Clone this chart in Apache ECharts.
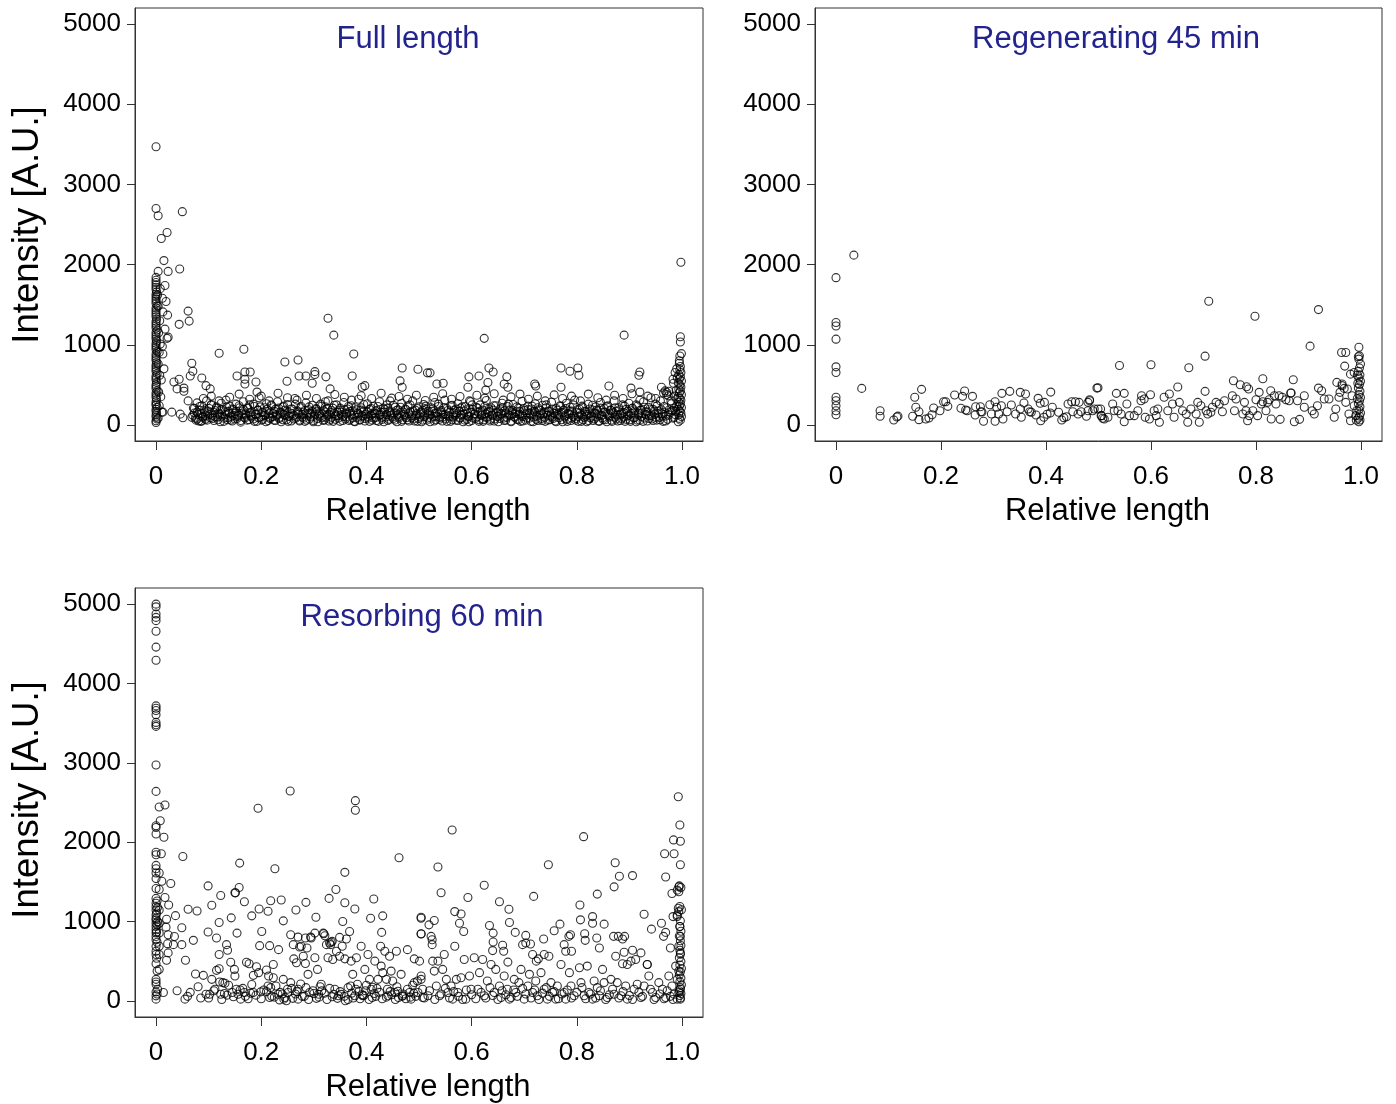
<!DOCTYPE html>
<html><head><meta charset="utf-8">
<script src="https://cdn.jsdelivr.net/npm/echarts@6/dist/echarts.min.js"></script>
<style>html,body{margin:0;padding:0;background:#fff}#c{width:1396px;height:1104px}</style>
</head><body><div id="c"></div>
<script>
const xTicks=[0,0.2,0.4,0.6,0.8,1.0];
const xTickLabels=['0','0.2','0.4','0.6','0.8','1.0'];
const yTicks=[0,1000,2000,3000,4000,5000];
const panelTitles=['Full length','Regenerating 45 min','Resorbing 60 min'];
const xName='Relative length';
const yName='Intensity [A.U.]';

const fullLength=[
[0,30],[0,52],[0.002,75],[0,98],[0,125],[0.001,148],[0,170],[0,196],[0.002,218],[0,245],[0,262],[0,290],[0.001,318],[0,342],[0,371],[0,398],[0.002,425],[0,452],[0,478],[0,503],[0.001,531],[0,560],[0,586],[0,612],[0.002,640],[0,668],[0,692],[0,720],[0,748],[0.001,776],[0,803],[0,830],[0,858],[0,884],[0.002,912],[0,938],[0,965],[0,992],[0,1018],[0.001,1046],[0,1072],[0,1101],[0,1128],[0,1156],[0.002,1183],[0,1210],[0,1238],[0,1266],[0,1292],[0.001,1320],[0,1348],[0,1376],[0,1404],[0,1432],[0,1460],[0.002,1488],[0,1515],[0,1544],[0,1572],[0,1601],[0,1630],[0.001,1660],[0,1690],[0,1718],[0,1747],[0,1776],[0,1805],[0,1840],
[0.004,85],[0.006,240],[0.005,410],[0.007,620],[0.004,760],[0.006,905],[0.008,1010],[0.005,1150],[0.007,1300],[0.004,1480],[0.009,350],[0.011,160],[0.013,160],[0.01,560],[0.012,980],[0.015,700],[0.008,1700],[0.003,1620],
[0,3470],[0,2700],[0.004,2610],[0.05,2660],[0.01,2325],[0.021,2400],[0.015,2050],[0.045,1945],[0.004,1915],[0.023,1915],[0.017,1740],[0.012,1580],[0.019,1540],[0.013,1410],[0.022,1370],[0.061,1420],[0.063,1295],[0.044,1255],[0.017,1195],[0.021,1080],[0.023,1095],[0.013,885],[0.12,895],[0.167,945],[0.327,1330],[0.338,1120],[0.376,885],[0.624,1080],[0.89,1120],[0.998,2030],[0.997,1100],[0.997,1035],[0.27,810],
[.468,710],[.498,695],[.516,650],[.521,650],[.302,665],[.302,630],[.323,600],[.373,610],[.285,610],[.633,710],[.641,660],[.614,610],[.595,600],[.667,600],[.77,710],[.802,710],[.787,670],[.804,620],[.918,620],[.464,550],[.468,470],[.546,520],[.534,510],[.397,490],[.392,470],[.331,450],[.297,520],[.593,470],[.627,435],[.631,530],[.662,510],[.669,470],[.72,510],[.722,485],[.77,470],[.861,485],[.903,460],[.92,410],
[.068,770],[.07,670],[.065,610],[.087,585],[.034,535],[.04,450],[.044,570],[.053,460],[.053,420],[.095,490],[.103,450],[.061,300],[.03,160],[.046,135],[.051,90],[.154,610],[.169,660],[.169,570],[.169,510],[.179,660],[.19,535],[.192,410],[.245,785],[.249,545],[.272,610],[.078,75],[.087,50],
[.961,470],[.968,425],[.971,405],[.974,365],[.983,570],[.987,655],[.99,700],[.995,800],[.996,860],[.999,890],[.92,660],
[.09,330],[.105,360],[.12,300],[.14,345],[.158,385],[.178,320],[.2,360],[.215,300],[.232,395],[.25,340],[.268,310],[.286,370],[.305,330],[.322,290],[.34,380],[.358,345],[.372,310],[.39,365],[.41,330],[.428,395],[.445,300],[.462,355],[.478,320],[.495,370],[.512,305],[.528,345],[.545,390],[.562,320],[.578,355],[.596,300],[.61,370],[.625,335],[.643,390],[.66,310],[.675,350],[.692,385],[.708,320],[.725,360],[.74,300],[.757,375],[.773,330],[.79,360],[.807,300],[.822,385],[.84,340],[.856,310],[.872,370],[.888,330],[.905,390],[.92,310],[.935,360],[.95,330],[.965,400],
[.068,95],[.071,210],[.073,150],[.076,60],[.078,275],[.08,130],[.082,185],[.085,45],[.087,240],[.089,110],
[.092,165],[.094,70],[.096,300],[.098,140],[.101,205],[.103,90],[.105,255],[.108,120],[.11,55],[.112,180],
[.115,225],[.117,100],[.119,150],[.122,40],[.124,270],[.126,195],[.129,85],[.131,130],[.133,310],[.136,65],
[.138,170],[.14,235],[.143,105],[.145,50],[.147,190],[.15,145],[.152,260],[.154,80],[.157,120],[.159,215],
[.161,35],[.164,175],[.166,290],[.168,95],[.171,140],[.173,60],[.175,205],[.178,250],[.18,115],[.182,165],
[.185,75],[.187,230],[.189,130],[.192,45],[.194,185],[.196,340],[.199,100],[.201,155],[.203,70],[.206,215],
[.208,125],[.21,265],[.213,55],[.215,175],[.217,95],[.22,240],[.222,140],[.224,60],[.227,195],[.229,110],
[.231,290],[.234,80],[.236,160],[.238,40],[.241,225],[.243,130],[.245,185],[.248,65],[.25,255],[.252,105],
[.255,150],[.257,50],[.259,200],[.262,120],[.264,330],[.266,85],[.269,175],[.271,135],[.273,60],[.276,230],
[.278,100],[.28,160],[.283,45],[.285,275],[.287,125],[.29,190],[.292,75],[.294,145],[.297,245],[.299,55],
[.301,110],[.304,205],[.306,165],[.308,40],[.311,135],[.313,260],[.315,90],[.318,180],[.32,65],[.322,225],
[.325,120],[.327,300],[.329,50],[.332,155],[.334,95],[.336,210],[.339,140],[.341,70],[.343,250],[.346,115],
[.348,185],[.35,45],[.353,160],[.355,105],[.357,280],[.36,75],[.362,135],[.364,200],[.367,55],[.369,170],
[.371,240],[.374,90],[.376,125],[.378,40],[.381,190],[.383,150],[.385,320],[.388,65],[.39,215],[.392,110],
[.395,170],[.397,50],[.399,135],[.402,265],[.404,85],[.406,195],[.409,120],[.411,60],[.413,230],[.416,145],
[.418,95],[.42,180],[.423,45],[.425,290],[.427,130],[.43,70],[.432,210],[.434,160],[.437,100],[.439,250],
[.441,55],[.444,175],[.446,120],[.448,335],[.451,80],[.453,145],[.455,220],[.458,40],[.46,190],[.462,105],
[.465,155],[.467,270],[.469,65],[.472,130],[.474,200],[.476,90],[.479,240],[.481,50],[.483,165],[.486,115],
[.488,300],[.49,75],[.493,185],[.495,140],[.497,45],[.5,225],[.502,100],[.504,160],[.507,60],[.509,255],
[.511,125],[.514,195],[.516,85],[.518,140],[.521,40],[.523,215],[.525,170],[.528,105],[.53,280],[.532,65],
[.535,150],[.537,230],[.539,95],[.542,180],[.544,50],[.546,130],[.549,310],[.551,75],[.553,205],[.556,115],
[.558,160],[.56,45],[.563,245],[.565,100],[.567,185],[.57,60],[.572,140],[.574,265],[.577,85],[.579,210],
[.581,125],[.584,40],[.586,175],[.588,230],[.591,70],[.593,150],[.595,105],[.598,290],[.6,55],[.602,195],
[.605,135],[.607,80],[.609,220],[.612,160],[.614,45],[.616,250],[.619,115],[.621,185],[.623,65],[.626,140],
[.628,305],[.63,95],[.633,170],[.635,50],[.637,215],[.64,125],[.642,240],[.644,75],[.647,155],[.649,110],
[.651,40],[.654,200],[.656,145],[.658,270],[.661,85],[.663,175],[.665,60],[.668,230],[.67,120],[.672,185],
[.675,50],[.677,140],[.679,255],[.682,95],[.684,165],[.686,70],[.689,210],[.691,130],[.693,45],[.696,295],
[.698,105],[.7,180],[.703,60],[.705,150],[.707,235],[.71,85],[.712,125],[.714,200],[.717,40],[.719,170],
[.721,265],[.724,110],[.726,55],[.728,190],[.731,140],[.733,80],[.735,245],[.738,160],[.74,45],[.742,215],
[.745,120],[.747,175],[.749,65],[.752,285],[.754,100],[.756,150],[.759,50],[.761,205],[.763,130],[.766,90],
[.768,240],[.77,160],[.773,40],[.775,185],[.777,115],[.78,270],[.782,70],[.784,145],[.787,220],[.789,55],
[.791,175],[.794,105],[.796,310],[.798,80],[.801,155],[.803,45],[.805,200],[.808,125],[.81,235],[.812,65],
[.815,170],[.817,110],[.819,40],[.822,260],[.824,140],[.826,90],[.829,190],[.831,55],[.833,150],[.836,225],
[.838,100],[.84,175],[.843,45],[.845,280],[.847,120],[.85,70],[.852,205],[.854,160],[.857,40],[.859,240],
[.861,115],[.864,185],[.866,60],[.868,140],[.871,300],[.873,95],[.875,170],[.878,50],[.88,215],[.882,130],
[.885,80],[.887,250],[.889,155],[.892,45],[.894,195],[.896,110],[.899,270],[.901,65],[.903,145],[.906,210],
[.908,90],[.91,175],[.913,40],[.915,235],[.917,125],[.92,60],[.922,185],[.924,150],[.927,290],[.929,85],
[.931,165],[.934,50],[.936,220],[.938,115],[.941,340],[.943,75],[.945,195],[.948,135],[.95,260],[.952,60],
[.955,175],[.957,95],[.959,300],[.962,140],[.964,45],[.966,230],[.969,110],[.971,380],[.973,70],[.976,190],
[.978,155],[.98,265],[.983,85],[.985,210],[.987,130],[.99,320],
[.070,120],[.073,205],[.075,85],[.078,160],[.081,50],[.083,230],[.086,140],[.089,95],[.091,185],[.094,115],
[.097,60],[.099,175],[.102,130],[.105,245],[.107,80],[.110,155],[.113,100],[.115,210],[.118,65],[.121,135],
[.123,190],[.126,110],[.129,45],[.131,165],[.134,225],[.137,90],[.139,145],[.142,60],[.145,200],[.147,120],
[.150,75],[.153,170],[.155,105],[.158,240],[.161,55],[.163,140],[.166,195],[.169,85],[.171,125],[.174,215],
[.177,65],[.179,150],[.182,100],[.185,260],[.187,45],[.190,135],[.193,185],[.195,90],[.198,225],[.201,60],
[.203,160],[.206,115],[.209,40],[.211,195],[.214,140],[.217,80],[.219,250],[.222,105],[.225,170],[.227,55],
[.230,130],[.233,210],[.235,95],[.238,150],[.241,65],[.243,235],[.246,120],[.249,175],[.251,45],[.254,110],
[.257,200],[.259,140],[.262,75],[.265,260],[.267,100],[.270,160],[.273,50],[.275,215],[.278,130],[.281,85],
[.283,180],[.286,60],[.289,145],[.291,225],[.294,100],[.297,170],[.299,40],[.302,135],[.305,195],[.307,80],
[.310,150],[.313,110],[.315,235],[.318,55],[.321,165],[.323,95],[.326,205],[.329,135],[.331,70],[.334,180],
[.337,45],[.339,245],[.342,115],[.345,160],[.347,85],[.350,210],[.353,130],[.355,55],[.358,190],[.361,100],
[.363,150],[.366,230],[.369,70],[.371,125],[.374,175],[.377,45],[.379,215],[.382,95],[.385,140],[.387,60],
[.390,185],[.393,115],[.395,255],[.398,80],[.401,160],[.403,105],[.406,45],[.409,205],[.411,140],[.414,85],
[.417,175],[.419,55],[.422,230],[.425,120],[.427,160],[.430,95],[.433,40],[.435,195],[.438,130],[.441,210],
[.443,70],[.446,150],[.449,100],[.451,245],[.454,60],[.457,180],[.459,125],[.462,85],[.465,220],[.467,45],
[.470,160],[.473,110],[.475,190],[.478,65],[.481,140],[.483,250],[.486,90],[.489,175],[.491,50],[.494,120],
[.497,205],[.499,80],[.502,150],[.505,40],[.507,185],[.510,105],[.513,235],[.515,60],[.518,170],[.521,125],
[.523,85],[.526,200],[.529,50],[.531,145],[.534,110],[.537,260],[.539,70],[.542,160],[.545,95],[.547,215],
[.550,130],[.553,45],[.555,180],[.558,100],[.561,240],[.563,65],[.566,150],[.569,120],[.571,200],[.574,55],
[.577,170],[.579,90],[.582,225],[.585,135],[.587,60],[.590,190],[.593,110],[.595,40],[.598,160],[.601,250],
[.603,85],[.606,140],[.609,100],[.611,210],[.614,65],[.617,175],[.619,125],[.622,45],[.625,230],[.627,95],
[.630,155],[.633,200],[.635,70],[.638,120],[.641,185],[.643,50],[.646,240],[.649,105],[.651,165],[.654,80],
[.657,135],[.659,215],[.662,55],[.665,150],[.667,95],[.670,260],[.673,120],[.675,40],[.678,180],[.681,105],
[.683,145],[.686,225],[.689,65],[.691,170],[.694,110],[.697,50],[.699,205],[.702,130],[.705,85],[.707,190],
[.710,150],[.713,45],[.715,235],[.718,100],[.721,160],[.723,70],[.726,215],[.729,125],[.731,180],[.734,55],
[.737,140],[.739,95],[.742,250],[.745,60],[.747,170],[.750,115],[.753,200],[.755,80],[.758,145],[.761,40],
[.763,185],[.766,120],[.769,230],[.771,65],[.774,155],[.777,100],[.779,205],[.782,45],[.785,135],[.787,175],
[.790,85],[.793,250],[.795,125],[.798,60],[.801,190],[.803,105],[.806,150],[.809,45],[.811,220],[.814,95],
[.817,165],[.819,130],[.822,55],[.825,200],[.827,110],[.830,245],[.833,75],[.835,145],[.838,185],[.841,50],
[.843,120],[.846,210],[.849,90],[.851,160],[.854,65],[.857,230],[.859,135],[.862,100],[.865,180],[.867,45],
[.870,155],[.873,215],[.875,75],[.878,125],[.881,190],[.883,55],[.886,140],[.889,100],[.891,235],[.894,70],
[.897,170],[.899,120],[.902,45],[.905,205],[.907,150],[.910,90],[.913,250],[.915,60],[.918,140],[.921,185],
[.923,105],[.926,45],[.929,220],[.931,130],[.934,160],[.937,80],[.939,200],[.942,115],[.945,55],[.947,175],
[.950,95],[.953,240],[.955,140],[.958,65],[.961,190],[.963,110],[.966,160],[.969,50],[.971,215],[.974,125],
[.993,40],[.997,60],[.995,82],[.999,105],[.994,128],[.998,150],[.996,172],[.993,195],[.999,218],[.995,240],[.997,262],[.994,285],[.998,308],[.996,330],[.993,355],[.999,378],[.995,402],[.997,425],[.994,448],[.998,472],[.996,498],[.993,522],[.999,548],[.995,575],[.997,600],[.994,628],[.998,655],[.996,690],[.997,730],[.995,770],[.985,95],[.988,170],[.99,240],[.986,360],[.989,430],[.984,520],[.991,590],[.982,180],[.979,300],[.975,420]
];

const regenerating45=[
[0,1837],[.034,2118],[0,1277],[0,1235],[0,1070],[0,725],[0,655],[0,345],[0,302],[0,240],[0,178],[0,128],[.049,456],[.084,178],[.084,108],[.11,62],[.116,100],[.118,110],[.15,345],[.163,444],[.146,108],[.152,220],[.158,165],[.158,66],[.171,75],[.177,87],[.183,128],[.186,211],[.198,178],[.205,290],[.209,290],[.213,232],[.226,373],[.241,357],[.245,423],[.26,357],[.238,208],[.247,186],[.25,178],[.266,228],[.275,228],[.265,124],[.276,165],[.278,162],[.281,46],[.293,252],[.296,137],[.303,290],[.306,220],[.31,137],[.303,46],[.316,394],[.331,419],[.315,240],[.318,75],[.326,165],[.334,249],[.351,407],[.361,386],[.342,137],[.351,199],[.353,96],[.358,274],[.366,199],[.369,165],[.372,158],[.381,124],[.385,332],[.389,270],[.397,282],[.409,410],[.39,53],[.396,96],[.402,133],[.408,149],[.412,220],[.424,158],[.43,62],[.434,91],[.439,103],[.442,261],[.449,290],[.456,290],[.463,282],[.451,165],[.461,137],[.467,165],[.483,315],[.48,282],[.477,108],[.48,178],[.492,199],[.497,460],[.504,199],[.506,116],[.508,83],
[.483,302],[.489,178],[.499,199],[.505,116],[.511,75],[.518,96],[.527,261],[.530,178],[.537,178],[.543,137],[.549,41],[.554,261],[.559,116],[.568,116],[.575,178],[.581,302],[.587,323],[.589,96],[.597,75],[.606,178],[.610,116],[.613,199],[.616,33],[.625,345],[.632,178],[.635,386],[.641,261],[.644,96],[.654,282],[.660,178],[.667,137],[.670,33],[.676,199],[.686,137],[.689,282],[.692,33],[.695,240],[.705,178],[.708,137],[.714,158],[.717,220],[.724,282],[.730,261],[.736,165],[.740,302],[.755,365],[.759,178],[.762,323],[.775,137],[.778,282],[.781,178],[.784,53],[.787,116],[.794,178],[.800,315],[.803,116],[.806,407],[.810,261],[.813,290],[.819,178],[.822,282],[.825,315],[.829,75],[.835,365],[.838,261],[.844,365],[.846,70],[.850,345],[.857,315],[.863,302],[.866,398],[.873,41],[.879,302],[.883,70],[.892,220],[.907,178],[.911,137],[.917,240],[.930,323],[.939,323],[.949,96],[.952,199],[.958,345],[.960,407],[.964,490],[.971,282],[.974,448],[.977,137],[.980,53],[.983,365],[.987,240],[.990,116],
[.710,1542],[.798,1356],[.919,1439],[.903,983],[.963,904],[.971,904],[.996,970],[.995,850],[.996,821],[.997,862],[.969,734],[.540,742],[.600,750],[.672,713],[.703,858],[.499,464],[.534,394],[.549,394],[.582,365],[.599,377],[.651,473],[.703,419],[.757,551],[.770,501],[.782,476],[.786,448],[.813,576],[.828,427],[.871,563],[.919,460],[.925,427],[.867,398],[.892,365],[.954,531],[.964,510],[.968,456],[.98,634],[.987,655],
[.996,40],[.998,62],[.995,85],[.997,112],[.999,150],[.996,190],[.998,228],[.995,265],[.997,300],[.999,342],[.996,380],[.998,420],[.995,462],[.997,505],[.999,545],[.996,585],[.998,625],[.995,668],[.997,710],[.999,760],[.993,330],[.992,180],[.994,520],[.991,60],[.993,620]
];

const resorbing60=[
[0,4997],[0,4963],[0,4872],[0,4830],[0,4789],[0,4655],[0,4456],[0,4290],[0,3716],[0,3687],[0,3658],[0,3604],[0,3508],[0,3479],[0,3458],[0,2972],[0,2640],[0,2207],[0,2186],[0,2104],[0,1874],[0,1842],[0,1708],[0,1667],[0,1612],[0,1542],[0,1418],[0,1293],[0,1231],[0,1188],[0,1147],[0,1085],[0,1043],[0,1022],[0,981],[0,939],[0,898],[0,857],[0,814],[0,773],[0,690],[0,627],[0,586],[0,470],[0,274],[0,241],[0,212],[0,116],[0,66],[0,25],
[0.002,1260],[0.001,1110],[0.003,1000],[0.002,960],[0.001,870],[0.003,1180],[0.002,740],[0.001,540],[0.002,380],[0.003,150],[0.002,90],
[.006,2444],[.017,2469],[.008,2270],[.015,2062],[.01,1854],[.006,1612],[.011,1509],[.028,1480],[.006,1405],[.017,1305],[.024,1210],[.006,1147],[.006,981],[.006,857],[.006,690],[.006,586],[.006,399],[.014,108],[.023,835],[.022,723],[.023,607],[.02,515],[.035,814],[.033,711],[.049,711],[.056,515],[.071,765],[.061,1156],[.078,1135],[.037,1076],[.02,1031],[.019,931],[.049,923],[.051,1821],[.055,25],
[.255,2644],[.379,2523],[.379,2403],[.194,2428],[.159,1737],[.226,1667],[.462,1804],[.359,1621],[.099,1450],[.123,1330],[.106,1206],[.151,1363],[.158,1430],[.168,1251],
[.075,341],[.090,324],[.106,274],[.115,387],[.120,407],[.121,241],[.127,233],[.131,224],[.095,87],[.102,87],[.123,87],[.142,490],[.149,399],[.150,316],[.145,108],[.153,150],[.156,87],[.161,25],[.168,108],[.172,490],[.177,470],[.185,324],[.185,108],[.191,432],[.195,358],[.199,116],[.210,391],[.214,316],[.216,46],[.213,191],[.223,461],[.223,295],[.232,87],[.242,274],[.243,25],[.248,4],[.251,108],[.256,233],[.261,711],[.262,532],[.267,482],[.270,150],[.270,25],[.273,682],[.280,565],[.284,474],[.289,337],[.292,108],[.295,794],[.302,856],[.302,545],[.307,399],[.309,87],[.314,212],[.318,856],[.321,823],[.324,711],[.327,545],[.330,732],[.333,740],[.336,524],[.343,628],[.347,67],[.349,565],[.354,690],[.359,532],[.360,4],[.365,170],[.368,877],[.371,503],[.374,337],[.378,67],[.381,545],[.383,212],[.390,690],[.393,67],[.397,399],[.403,586],[.406,274],[.409,150],[.411,46],[.416,503],[.422,274],[.427,690],[.428,441],[.431,358],[.435,628],[.438,274],[.441,67],[.444,565],[.447,378],[.450,254],[.454,108],[.457,628],[.461,46],[.466,337],[.469,67],[.478,648],[.482,108],[.485,25],[.491,532],[.497,254],[.501,503],[.504,316],[.507,150],
[.099,869],[.115,794],[.120,586],[.120,989],[.134,711],[.136,640],[.143,1048],[.150,1364],[.154,856],[.182,1073],[.196,1160],[.201,877],[.197,698],[.213,1131],[.216,698],[.218,1264],[.233,648],[.238,1272],[.242,1010],[.256,836],[.266,1147],[.270,806],[.276,690],[.284,794],[.285,1243],[.287,669],[.294,806],[.304,1056],[.319,848],[.329,1293],[.332,711],[.335,752],[.342,1405],[.349,802],[.355,1002],[.359,1239],[.362,782],[.378,1160],[.408,1043],[.414,1285],[.429,865],[.431,1073],[.504,1043],[.504,844],
[.04,130],[.06,60],[.08,180],[.1,40],[.112,150],[.13,95],[.138,200],[.147,55],[.165,160],[.175,30],[.182,210],[.19,75],[.205,140],[.22,60],[.228,190],[.236,110],[.245,45],[.258,160],[.265,90],[.275,215],[.282,60],[.298,130],[.305,35],[.312,180],[.32,100],[.335,55],[.34,150],[.352,85],[.37,190],[.375,40],[.386,125],[.395,70],[.4,200],[.415,95],[.42,160],[.438,50],[.445,120],[.458,180],[.47,90],[.475,30],[.488,200],[.494,60],
[.065,110],[.085,40],[.11,130],[.125,20],[.135,75],[.16,140],[.17,60],[.18,100],[.2,30],[.21,120],[.218,170],[.225,50],[.235,15],[.24,90],[.25,150],[.26,35],[.268,120],[.278,60],[.285,170],[.29,20],[.3,95],[.31,50],[.315,130],[.325,20],[.33,160],[.338,85],[.345,35],[.35,120],[.358,60],[.365,20],[.372,100],[.38,150],[.388,30],[.392,80],[.398,130],[.405,20],[.412,175],[.418,60],[.425,110],[.43,30],[.44,150],[.448,80],[.455,20],[.46,125],[.468,60],[.478,150],[.484,50],[.49,100],[.51,40],[.52,130],[.53,20],[.542,90],[.55,160],[.558,40],[.566,120],[.575,60],[.583,20],[.59,140],[.6,80],[.608,30],[.618,110],[.627,40],[.635,170],[.64,70],[.65,20],[.658,130],[.665,80],[.672,25],[.68,140],[.687,60],[.697,160],[.703,90],[.713,40],[.72,140],[.728,20],[.735,100],[.742,170],[.748,60],[.757,120],[.765,30],[.772,90],[.782,140],[.79,40],[.8,110],[.81,170],[.817,30],[.826,90],[.836,40],[.845,130],[.855,20],[.862,80],[.868,150],[.88,40],[.888,120],[.9,70],[.906,20],[.918,110],[.925,60],[.94,150],[.947,20],[.958,90],[.966,30],[.972,130],[.978,60],[.983,20],
[.993,2573],[.996,2216],[.984,2029],[.997,2012],[.967,1854],[.985,1854],[.997,1717],[.969,1563],[.873,1742],[.881,1571],[.906,1580],[.871,1438],[.813,2070],[.746,1717],[.563,2153],[.536,1688],[.542,1364],[.624,1459],[.593,1305],[.718,1318],[.653,1251],[.671,1156],[.839,1347],[.806,1210],[.981,1355],[.991,1397],[.994,1438],[.994,1376],[.993,1168],[.994,1127],[.991,1085],
[.504,1056],[.519,960],[.529,1014],[.504,848],[.523,815],[.525,773],[.525,711],[.568,1127],[.580,1097],[.577,981],[.585,877],[.568,690],[.634,952],[.641,856],[.641,744],[.640,636],[.659,703],[.661,628],[.669,491],[.672,989],[.683,865],[.703,827],[.697,711],[.703,732],[.712,719],[.716,586],[.723,503],[.727,532],[.737,781],[.738,586],[.747,565],[.757,885],[.768,969],[.776,711],[.779,628],[.788,836],[.785,815],[.790,628],[.807,1023],[.815,848],[.816,765],[.830,1064],[.830,981],[.838,794],[.843,669],[.852,969],
[.870,815],[.879,815],[.887,781],[.891,815],[.890,615],[.887,470],[.896,461],[.906,640],[.912,524],[.922,607],[.928,1093],[.934,461],[.942,906],[.961,981],[.965,815],[.969,865],[.978,669],[.983,1064],[.991,1064],[.996,940],[.997,815],[.994,690],[.997,607],
[.491,233],[.498,108],[.504,274],[.507,46],[.517,67],[.526,503],[.529,378],[.533,191],[.536,503],[.539,67],[.545,399],[.548,586],[.552,274],[.555,108],[.561,191],[.564,25],[.571,274],[.574,108],[.580,295],[.586,524],[.589,25],[.596,316],[.599,150],[.605,545],[.612,150],[.615,358],[.621,524],[.624,67],[.630,254],[.637,461],[.643,108],[.646,399],[.653,191],[.656,46],[.662,316],[.668,150],[.675,46],[.681,274],[.684,108],[.690,233],[.694,399],[.700,25],[.707,191],[.710,337],[.716,108],[.722,254],[.725,67],[.732,358],[.738,150],[.744,25],[.751,233],[.754,108],[.760,25],[.763,191],[.770,461],[.776,108],[.779,25],[.786,358],[.789,191],[.795,67],[.805,420],[.808,233],[.814,67],[.820,441],[.823,108],[.830,25],[.833,254],[.839,170],[.843,67],[.849,399],[.852,233],[.858,46],[.865,274],[.871,87],[.874,565],[.877,233],[.884,67],[.893,191],[.896,25],[.903,503],[.909,150],[.915,212],[.922,46],[.928,191],[.934,461],[.937,316],[.944,108],[.950,46],[.956,233],[.963,150],[.969,46],[.975,316],[.981,191],[.985,87],[.988,441],[.991,274],[.994,108],[.997,150],[.997,25],[.994,378],[.991,25],
[.997,40],[.996,70],[.998,95],[.995,130],[.997,170],[.999,205],[.996,245],[.998,290],[.995,330],[.997,370],[.999,410],[.996,455],[.998,500],[.995,545],[.997,590],[.996,640],[.998,700],[.997,760],[.995,820],[.998,880],[.996,940],[.997,1010],[.999,1150],[.996,1190],[.998,1430],[.995,1450]
];

const FF="'Liberation Sans', Arial, Helvetica, sans-serif";
const LINE='#333';
const TITLE_COLOR='#23238e';
const grids=[
  {left:135,top:8,width:568,height:433},
  {left:815,top:8,width:567,height:433},
  {left:135,top:588,width:568,height:433}
];
function xAx(i){return {gridIndex:i,type:'value',min:-0.04,max:1.04,
  name:xName,nameLocation:'middle',nameGap:55,
  nameTextStyle:{fontSize:31,color:'#000',fontFamily:FF,padding:[0,0,0,18]},
  axisLine:{show:true,onZero:false,lineStyle:{color:LINE,width:1}},
  axisTick:{show:true,length:9,customValues:xTicks,lineStyle:{color:LINE,width:1}},
  axisLabel:{customValues:xTicks,margin:23,fontSize:26,color:'#000',fontFamily:FF,
    formatter:v=>xTickLabels[xTicks.findIndex(t=>Math.abs(t-v)<1e-6)]},
  splitLine:{show:false}};}
function yAx(i){return {gridIndex:i,type:'value',min:-200,max:5200,
  axisLine:{show:true,onZero:false,lineStyle:{color:LINE,width:1}},
  axisTick:{show:true,length:8,customValues:yTicks,lineStyle:{color:LINE,width:1}},
  axisLabel:{customValues:yTicks,margin:14,fontSize:26,color:'#000',fontFamily:FF,formatter:v=>String(Math.round(v))},
  splitLine:{show:false}};}
function ser(i,data){return {type:'scatter',xAxisIndex:i,yAxisIndex:i,data:data,
  symbol:'circle',symbolSize:8,silent:true,
  itemStyle:{color:'rgba(0,0,0,0)',borderColor:'#000',borderWidth:1.1},
  emphasis:{disabled:true}};}
const chart=echarts.init(document.getElementById('c'),null,{renderer:'canvas'});
chart.setOption({
  animation:false,
  backgroundColor:'#fff',
  grid:grids.map(g=>Object.assign({show:true,borderColor:LINE,borderWidth:1,backgroundColor:'transparent'},g)),
  xAxis:[xAx(0),xAx(1),xAx(2)],
  yAxis:[yAx(0),yAx(1),yAx(2)],
  series:[ser(0,fullLength),ser(1,regenerating45),ser(2,resorbing60)],
  graphic:[
    {type:'text',x:408,y:39,style:{text:panelTitles[0],font:'31px '+FF,fill:TITLE_COLOR,align:'center',verticalAlign:'middle'}},
    {type:'text',x:1116,y:39,style:{text:panelTitles[1],font:'31px '+FF,fill:TITLE_COLOR,align:'center',verticalAlign:'middle'}},
    {type:'text',x:422,y:617,style:{text:panelTitles[2],font:'31px '+FF,fill:TITLE_COLOR,align:'center',verticalAlign:'middle'}},
    {type:'text',x:28,y:225,rotation:Math.PI/2,style:{text:yName,font:'36.5px '+FF,fill:'#000',align:'center',verticalAlign:'middle'}},
    {type:'text',x:28,y:800,rotation:Math.PI/2,style:{text:yName,font:'36.5px '+FF,fill:'#000',align:'center',verticalAlign:'middle'}}
  ]
});
</script></body></html>
